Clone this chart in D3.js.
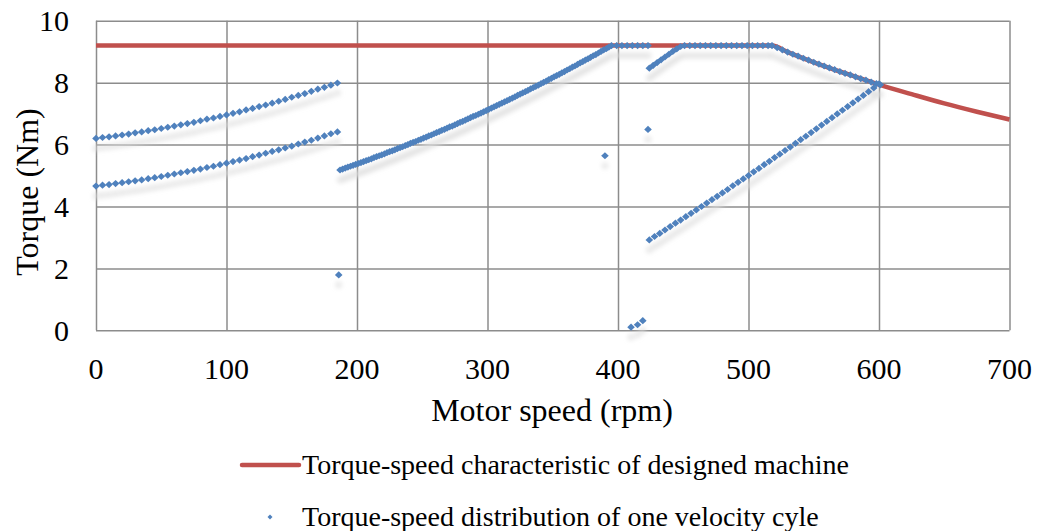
<!DOCTYPE html>
<html lang="en">
<head>
<meta charset="utf-8">
<title>Torque-speed</title>
<script src="https://cdn.jsdelivr.net/npm/d3@7/dist/d3.min.js"></script>
<style>
    html, body { margin: 0; padding: 0; background: #fff; }
    svg text { font-family: "Liberation Serif", "Times New Roman", serif; fill: #000; }
    .grid line { stroke: #8c8c8c; stroke-width: 1.5px; }
</style>
</head>
<body>
<div id="chart"></div>
<script>
    // axis ticks
    var speedTicks = [0, 100, 200, 300, 400, 500, 600, 700];
    var torqueTicks = [0, 2, 4, 6, 8, 10];

    // characteristic of the designed machine (rpm, Nm)
    var machineSpeed = [0, 518, 530, 550, 575, 600, 625, 650, 675, 700];
    var machineTorque = [9.2, 9.2, 8.99, 8.66, 8.29, 7.94, 7.63, 7.33, 7.06, 6.81];

    // velocity cycle samples, one pair of arrays per piece of the cycle
    var cyc1Speed = [0, 5, 10, 15, 20, 25, 30, 35, 40, 45, 50, 55, 60, 65, 70, 75, 80, 85, 90, 95,
        100, 105, 110, 115, 120, 125, 130, 135, 140, 145, 150, 155, 160, 165, 170, 175, 180, 185];
    var cyc1Torque = [6.20, 6.23, 6.25, 6.28, 6.31, 6.34, 6.38, 6.41, 6.45, 6.48, 6.52, 6.56, 6.60, 6.64,
        6.68, 6.72, 6.77, 6.82, 6.86, 6.91, 6.96, 7.01, 7.06, 7.12, 7.17, 7.23, 7.28, 7.34, 7.40, 7.46,
        7.53, 7.59, 7.65, 7.72, 7.79, 7.85, 7.92, 7.99];

    var cyc2Speed = cyc1Speed;
    var cyc2Torque = [4.66, 4.69, 4.71, 4.74, 4.77, 4.80, 4.83, 4.86, 4.90, 4.93, 4.97, 5.01, 5.05, 5.09,
        5.13, 5.17, 5.21, 5.26, 5.30, 5.35, 5.40, 5.45, 5.50, 5.55, 5.61, 5.66, 5.72, 5.78, 5.83, 5.89,
        5.95, 6.02, 6.08, 6.14, 6.21, 6.28, 6.35, 6.41];

    var cyc3Speed = [187, 189, 191, 193, 195, 197, 199, 201, 203, 205, 207, 209, 211, 213, 215, 217, 219,
        221, 223, 225, 227, 229, 231, 233, 235, 237, 239, 241, 243, 245, 247, 249, 251, 253, 255, 257,
        259, 261, 263, 265, 267, 269, 271, 273, 275, 277, 279, 281, 283, 285, 287, 289, 291, 293, 295,
        297, 299, 301, 303, 305, 307, 309, 311, 313, 315, 317, 319, 321, 323, 325, 327, 329, 331, 333,
        335, 337, 339, 341, 343, 345, 347, 349, 351, 353, 355, 357, 359, 361, 363, 365, 367, 369, 371,
        373, 375, 377, 379, 381, 383, 385, 387, 389, 391, 393, 395];
    var cyc3Torque = [5.18, 5.21, 5.24, 5.27, 5.30, 5.33, 5.36, 5.39, 5.42, 5.45, 5.48, 5.51, 5.54, 5.58,
        5.61, 5.64, 5.67, 5.70, 5.74, 5.77, 5.80, 5.83, 5.87, 5.90, 5.93, 5.97, 6.00, 6.04, 6.07, 6.10,
        6.14, 6.17, 6.21, 6.24, 6.28, 6.31, 6.35, 6.39, 6.42, 6.46, 6.49, 6.53, 6.57, 6.60, 6.64, 6.68,
        6.72, 6.75, 6.79, 6.83, 6.87, 6.91, 6.94, 6.98, 7.02, 7.06, 7.10, 7.14, 7.18, 7.22, 7.26, 7.30,
        7.34, 7.38, 7.42, 7.46, 7.50, 7.54, 7.59, 7.63, 7.67, 7.71, 7.75, 7.80, 7.84, 7.88, 7.92, 7.97,
        8.01, 8.05, 8.10, 8.14, 8.19, 8.23, 8.27, 8.32, 8.36, 8.41, 8.45, 8.50, 8.54, 8.59, 8.64, 8.68,
        8.73, 8.77, 8.82, 8.87, 8.91, 8.96, 9.01, 9.06, 9.10, 9.15, 9.20];

    // running along the torque limit
    var cyc4Speed = [399, 403, 407, 411, 415, 419, 423];
    var cyc4Torque = [9.20, 9.20, 9.20, 9.20, 9.20, 9.20, 9.20];

    var cyc5Speed = [424, 427, 430, 433, 436, 439, 442, 445, 448, 451, 455, 459, 463, 467, 471, 475, 479,
        483, 487, 491, 495, 499, 503, 507, 511, 515, 518, 522, 526, 530, 534, 538, 542, 546, 550, 554,
        558, 562, 566, 570, 574, 578, 582, 586, 590, 594, 598, 601];
    var cyc5Torque = [8.47, 8.56, 8.65, 8.74, 8.83, 8.92, 9.01, 9.09, 9.17, 9.20, 9.20, 9.20, 9.20, 9.20,
        9.20, 9.20, 9.20, 9.20, 9.20, 9.20, 9.20, 9.20, 9.20, 9.20, 9.20, 9.20, 9.20, 9.13, 9.06, 8.99,
        8.92, 8.86, 8.79, 8.73, 8.66, 8.60, 8.54, 8.48, 8.42, 8.36, 8.30, 8.25, 8.19, 8.13, 8.08, 8.02,
        7.97, 7.93];

    var cyc6Speed = [424, 428, 432, 436, 440, 444, 448, 452, 456, 460, 464, 468, 472, 476, 480, 484, 488,
        492, 496, 500, 504, 508, 512, 516, 520, 524, 528, 532, 536, 540, 544, 548, 552, 556, 560, 564,
        568, 572, 576, 580, 584, 588, 592, 596, 600];
    var cyc6Torque = [2.92, 3.03, 3.13, 3.24, 3.35, 3.46, 3.56, 3.67, 3.78, 3.89, 4.00, 4.11, 4.22, 4.33,
        4.44, 4.55, 4.67, 4.78, 4.89, 5.00, 5.12, 5.23, 5.35, 5.46, 5.58, 5.69, 5.81, 5.92, 6.04, 6.16,
        6.27, 6.39, 6.51, 6.63, 6.75, 6.87, 6.99, 7.11, 7.23, 7.35, 7.47, 7.59, 7.71, 7.83, 7.96];

    // single samples
    var cyc7Speed = [186, 390, 423, 410, 415, 419];
    var cyc7Torque = [1.79, 5.64, 6.49, 0.10, 0.18, 0.31];

    var cycleSpeed = [cyc1Speed, cyc2Speed, cyc3Speed, cyc4Speed, cyc5Speed, cyc6Speed, cyc7Speed];
    var cycleTorque = [cyc1Torque, cyc2Torque, cyc3Torque, cyc4Torque, cyc5Torque, cyc6Torque, cyc7Torque];

    var legendLabels = ["Torque-speed characteristic of designed machine",
        "Torque-speed distribution of one velocity cyle"];

    var width = 1040, height = 531;
    var red = "#c0504d", blue = "#4f81bd";

    var svg = d3.select("#chart").append("svg")
        .attr("width", width)
        .attr("height", height);

    // soft light shadow under the blue markers
    var defs = svg.append("defs");
    var f = defs.append("filter").attr("id", "shadow")
        .attr("x", "-10%").attr("y", "-10%").attr("width", "120%").attr("height", "130%");
    f.append("feGaussianBlur").attr("in", "SourceAlpha").attr("stdDeviation", 2.5).attr("result", "b");
    f.append("feOffset").attr("in", "b").attr("dy", 10).attr("result", "o");
    f.append("feFlood").attr("flood-color", "#dcdcdc").attr("flood-opacity", 0.9);
    f.append("feComposite").attr("in2", "o").attr("operator", "in").attr("result", "s");
    var fm = f.append("feMerge");
    fm.append("feMergeNode").attr("in", "s");
    fm.append("feMergeNode").attr("in", "SourceGraphic");

    var x = d3.scaleLinear().domain([0, 700]).range([96, 1009.5]);
    var y = d3.scaleLinear().domain([0, 10]).range([330.3, 20.8]);

    // grid lines
    svg.append("g")
        .attr("class", "grid")
        .attr("transform", "translate(0," + y(0) + ")")
        .call(d3.axisBottom(x).tickValues(speedTicks).tickSize(-(y(0) - y(10))).tickFormat(""))
        .call(function(g) { g.select(".domain").remove(); });

    svg.append("g")
        .attr("class", "grid")
        .attr("transform", "translate(" + x(0) + ",0)")
        .call(d3.axisLeft(y).tickValues(torqueTicks).tickSize(-(x(700) - x(0))).tickFormat(""))
        .call(function(g) { g.select(".domain").remove(); });

    // tick labels
    svg.append("g").selectAll("text")
        .data(speedTicks)
        .enter().append("text")
        .attr("x", function(d) { return x(d); })
        .attr("y", 379)
        .attr("text-anchor", "middle")
        .style("font-size", "30px")
        .text(function(d) { return d; });

    svg.append("g").selectAll("text")
        .data(torqueTicks)
        .enter().append("text")
        .attr("x", 69)
        .attr("y", function(d) { return y(d) + 10.5; })
        .attr("text-anchor", "end")
        .style("font-size", "30px")
        .text(function(d) { return d; });

    // axis titles
    svg.append("text")
        .attr("x", 552)
        .attr("y", 421)
        .attr("text-anchor", "middle")
        .style("font-size", "32px")
        .text("Motor speed (rpm)");

    svg.append("text")
        .attr("transform", "translate(38,192) rotate(-90)")
        .attr("text-anchor", "middle")
        .style("font-size", "32px")
        .text("Torque (Nm)");

    // machine characteristic
    var machine = d3.zip(machineSpeed, machineTorque);
    svg.append("path")
        .datum(machine)
        .attr("fill", "none")
        .attr("stroke", red)
        .attr("stroke-width", 4.5)
        .attr("d", d3.line()
            .x(function(d) { return x(d[0]); })
            .y(function(d) { return y(d[1]); })
            .curve(d3.curveMonotoneX));

    // velocity cycle markers
    var diamond = "M0,-3.6L3.8,0L0,3.6L-3.8,0Z";
    var pts = [];
    cycleSpeed.forEach(function(s, i) {
        s.forEach(function(v, j) { pts.push([v, cycleTorque[i][j]]); });
    });

    svg.append("g")
        .attr("filter", "url(#shadow)")
        .selectAll("path")
        .data(pts)
        .enter().append("path")
        .attr("d", diamond)
        .attr("fill", blue)
        .attr("transform", function(d) { return "translate(" + x(d[0]) + "," + y(d[1]) + ")"; });

    // legend
    var lg = svg.append("g");
    lg.append("line")
        .attr("x1", 242).attr("x2", 299)
        .attr("y1", 465).attr("y2", 465)
        .attr("stroke", red)
        .attr("stroke-width", 4.5)
        .attr("stroke-linecap", "round");
    lg.append("text")
        .attr("x", 302).attr("y", 474)
        .style("font-size", "28px")
        .text(legendLabels[0]);
    lg.append("path")
        .attr("d", "M0,-2.5L2.5,0L0,2.5L-2.5,0Z")
        .attr("fill", blue)
        .attr("transform", "translate(270,517)");
    lg.append("text")
        .attr("x", 302).attr("y", 526)
        .style("font-size", "28px")
        .text(legendLabels[1]);
</script>
</body>
</html>
